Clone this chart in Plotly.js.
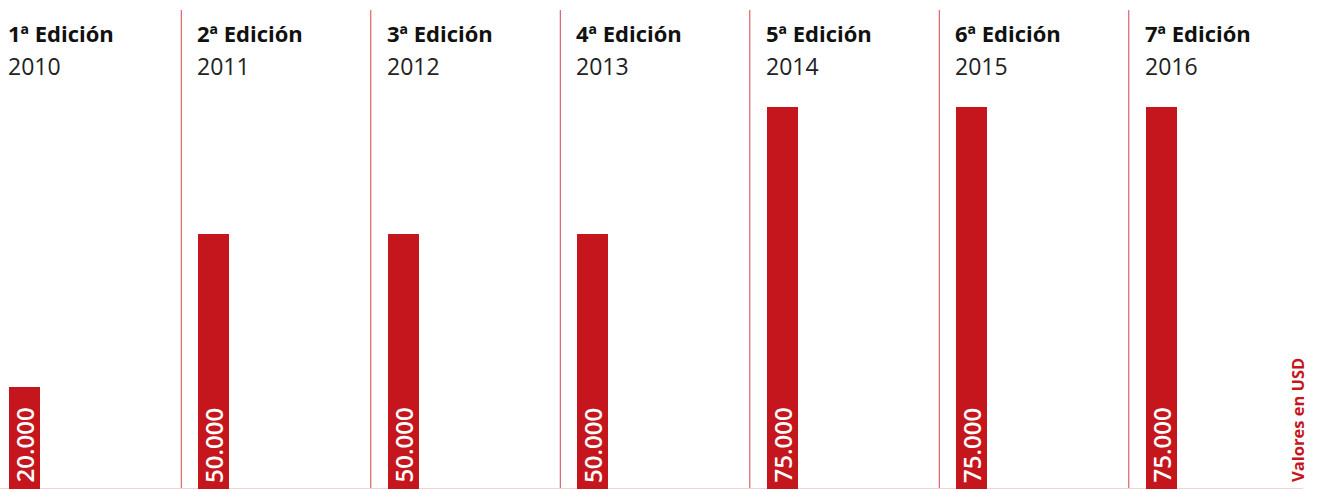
<!DOCTYPE html>
<html>
<head>
<meta charset="utf-8">
<script src="https://cdn.plot.ly/plotly-3.0.1.min.js"></script>
<style>
  html, body { margin: 0; padding: 0; background: #ffffff; }
  #chart { width: 1319px; height: 490px; }
</style>
</head>
<body>
<div id="chart"></div>
<script>
// ---- Data ----
const editions = ['1ª Edición', '2ª Edición', '3ª Edición', '4ª Edición', '5ª Edición', '6ª Edición', '7ª Edición'];
const years = ['2010', '2011', '2012', '2013', '2014', '2015', '2016'];
const prizeValues = [20000, 50000, 50000, 50000, 75000, 75000, 75000];
const unitNote = 'Valores en USD';

// ---- Styling ----
const RED = '#c4161c';
const FONT = '"Open Sans", "Noto Sans", sans-serif';
const W = 1319, H = 490;
const plotH = 489;           // plot area height (px)
const pxPerUnit = 189.5;     // px between category centers
const firstCenter = 24.0;    // px of first center
const xIdx = editions.map((_, i) => i);

function fmt(v) { return String(v).replace(/\B(?=(\d{3})+(?!\d))/g, '.'); }
function paperY(px) { return 1 - px / plotH; }

const barHalf = 15.5 / pxPerUnit;

const trace = {
  type: 'bar',
  x: xIdx,
  y: prizeValues,
  width: 31 / pxPerUnit,
  marker: { color: RED, line: { width: 0 } },
  hoverinfo: 'skip'
};

const annotations = [];
const shapes = [];

xIdx.forEach((i) => {
  // header: edition (bold) and year
  annotations.push({
    xref: 'x', yref: 'paper', x: i - barHalf, y: paperY(33),
    xanchor: 'left', yanchor: 'middle', xshift: -3,
    text: '<b>' + editions[i] + '</b>', showarrow: false,
    font: { family: FONT, size: 22, color: '#111111' }
  });
  annotations.push({
    xref: 'x', yref: 'paper', x: i - barHalf, y: paperY(66),
    xanchor: 'left', yanchor: 'middle', xshift: -3,
    text: years[i], showarrow: false,
    font: { family: FONT, size: 23, color: '#222222' }
  });
  // value label inside bar, rotated
  annotations.push({
    xref: 'x', yref: 'y', x: i, y: 0,
    xanchor: 'center', yanchor: 'bottom', yshift: 4,
    textangle: -90,
    text: fmt(prizeValues[i]), showarrow: false,
    font: { family: FONT, size: 24, color: '#ffffff', weight: 600 }
  });
  // separators
  if (i > 0) {
    shapes.push({
      type: 'line', xref: 'x', yref: 'paper',
      x0: i - 0.17, x1: i - 0.17, y0: paperY(488), y1: paperY(10),
      line: { color: '#d4434a', width: 1 }, layer: 'below'
    });
  }
});

// baseline
shapes.push({
  type: 'line', xref: 'paper', yref: 'y',
  x0: 0, x1: 1303 / W, y0: 0, y1: 0,
  line: { color: '#eba3a7', width: 1 }, layer: 'below'
});

annotations.push({
  xref: 'paper', yref: 'paper', x: 1297 / W, y: paperY(484),
  xanchor: 'center', yanchor: 'bottom', textangle: -90,
  text: '<b>' + unitNote + '</b>', showarrow: false,
  font: { family: FONT, size: 16.5, color: RED }
});

const layout = {
  width: W, height: H,
  margin: { l: 0, r: 0, t: 0, b: H - plotH, pad: 0 },
  paper_bgcolor: '#ffffff', plot_bgcolor: '#ffffff',
  showlegend: false,
  bargap: 0,
  xaxis: {
    range: [-firstCenter / pxPerUnit, (W - firstCenter) / pxPerUnit],
    showgrid: false, zeroline: false, showticklabels: false, ticks: '', showline: false, fixedrange: true
  },
  yaxis: {
    range: [0, plotH / 5.1 * 1000],
    showgrid: false, zeroline: false, showticklabels: false, ticks: '', showline: false, fixedrange: true
  },
  shapes: shapes,
  annotations: annotations
};

Plotly.newPlot('chart', [trace], layout, { displayModeBar: false, staticPlot: true });
</script>
</body>
</html>
